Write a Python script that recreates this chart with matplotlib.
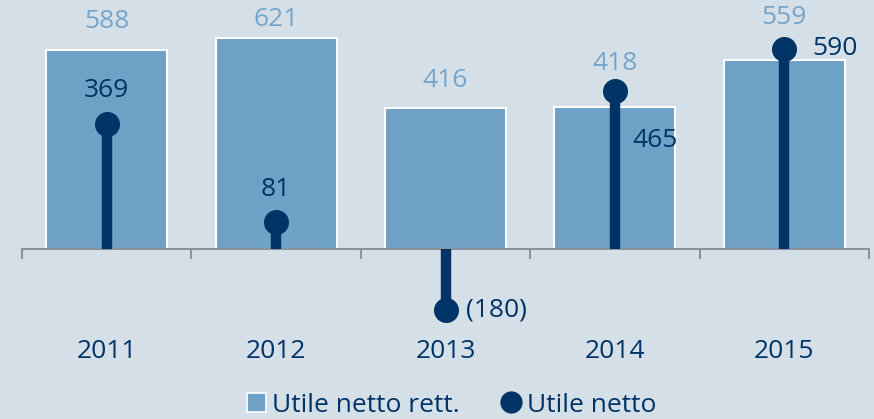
import matplotlib.pyplot as plt
from matplotlib.lines import Line2D
from matplotlib.patches import Patch

# dati
anni = ["2011", "2012", "2013", "2014", "2015"]
utile_rett = [588, 621, 416, 418, 559]
utile_netto = [369, 81, -180, 465, 590]

BG = "#d5dfe8"
BAR = "#6fa0c6"
NAVY = "#003366"
LIGHT = "#76a5cc"
GRIGIO = "#8b939e"

plt.rcParams['font.family'] = ['Open Sans', 'DejaVu Sans']
FS = 19

fig = plt.figure(figsize=(8.74, 4.19), dpi=100, facecolor=BG)
ax = fig.add_axes([22 / 874, 0, 847 / 874, 1])
ax.set_facecolor(BG)

px = 2.95  # unità per pixel
ax.set_xlim(-0.5, 4.5)
ax.set_ylim((249 - 419) * px, 249 * px)

x = list(range(len(anni)))

# barre utile netto rettificato
ax.bar(x, utile_rett, width=0.715, color=BAR, edgecolor="white", linewidth=1.5, zorder=2)

# lollipop utile netto
ax.vlines(x, 0, utile_netto, color=NAVY, linewidth=7.5, zorder=3)
ax.plot(x, utile_netto, "o", color=NAVY, markersize=17, zorder=4)

# asse
for s in ["top", "left", "right"]:
    ax.spines[s].set_visible(False)
ax.spines["bottom"].set_position(("data", 0))
ax.spines["bottom"].set_color(GRIGIO)
ax.spines["bottom"].set_linewidth(1.5)
ax.set_xticks([i - 0.5 for i in range(len(anni) + 1)])
ax.set_xticklabels([])
ax.tick_params(axis="x", direction="out", length=7, width=1.5, color=GRIGIO)
ax.set_yticks([])

# etichette barre (offset in px sopra la barra)
dy_bar = [28, 19, 27, 44, 42]
for i, v in enumerate(utile_rett):
    ax.annotate(str(v), (i, v), xytext=(0, dy_bar[i] * 0.72), textcoords="offset points",
                ha="center", va="center", color=LIGHT, fontsize=FS)

# etichette utile netto
pos_lbl = [(0, 33, "center"), (0, 32, "center"), (20, 0, "left"), (17, -49, "left"), (28, 1, "left")]
for i, v in enumerate(utile_netto):
    dx, dy, ha = pos_lbl[i]
    txt = f"({abs(v)})" if v < 0 else str(v)
    ax.annotate(txt, (i, v), xytext=(dx * 0.72, dy * 0.72), textcoords="offset points",
                ha=ha, va="center", color=NAVY, fontsize=FS)

# anni
for i, a in enumerate(anni):
    ax.text(i, (249 - 352) * px, a, ha="center", va="center", color=NAVY, fontsize=FS)

handles = [
    Patch(facecolor=BAR, edgecolor="white", linewidth=1.2),
    Line2D([], [], marker="o", linestyle="none", color=NAVY, markersize=15),
]
fig.legend(handles, ["Utile netto rett.", "Utile netto"], loc="center",
           bbox_to_anchor=(452 / 874, 1 - 405 / 419), ncol=2, frameon=False,
           fontsize=FS, labelcolor=NAVY, handlelength=0.7, handleheight=0.7,
           handletextpad=0.25, columnspacing=1.6, borderpad=0)

fig.savefig("out.png", dpi=100, facecolor=BG)
